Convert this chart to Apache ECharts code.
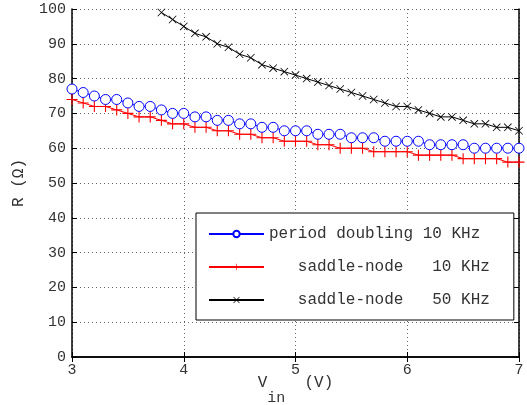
<!DOCTYPE html>
<html>
<head>
<meta charset="utf-8">
<script src="https://cdn.jsdelivr.net/npm/echarts@6/dist/echarts.min.js"></script>
<style>
  html, body { margin: 0; padding: 0; background: #fff; }
  #myChart { width: 527px; height: 405px; }
</style>
</head>
<body>
<div id="myChart"></div>
<script>
// 输入电压 V_in (V)
var vin = [3.0, 3.1, 3.2, 3.3, 3.4, 3.5, 3.6, 3.7, 3.8, 3.9,
           4.0, 4.1, 4.2, 4.3, 4.4, 4.5, 4.6, 4.7, 4.8, 4.9,
           5.0, 5.1, 5.2, 5.3, 5.4, 5.5, 5.6, 5.7, 5.8, 5.9,
           6.0, 6.1, 6.2, 6.3, 6.4, 6.5, 6.6, 6.7, 6.8, 6.9, 7.0];
// period doubling 10 KHz
var pd10 = [77, 76, 75, 74, 74, 73, 72, 72, 71, 70,
            70, 69, 69, 68, 68, 67, 67, 66, 66, 65,
            65, 65, 64, 64, 64, 63, 63, 63, 62, 62,
            62, 62, 61, 61, 61, 61, 60, 60, 60, 60, 60];
// saddle-node 10 KHz
var sn10 = [74, 73, 72, 72, 71, 70, 69, 69, 68, 67,
            67, 66, 66, 65, 65, 64, 64, 63, 63, 62,
            62, 62, 61, 61, 60, 60, 60, 59, 59, 59,
            59, 58, 58, 58, 58, 57, 57, 57, 57, 56, 56];
// saddle-node 50 KHz (从 3.8 V 开始)
var vin50 = [3.8, 3.9, 4.0, 4.1, 4.2, 4.3, 4.4, 4.5, 4.6, 4.7, 4.8, 4.9,
             5.0, 5.1, 5.2, 5.3, 5.4, 5.5, 5.6, 5.7, 5.8, 5.9,
             6.0, 6.1, 6.2, 6.3, 6.4, 6.5, 6.6, 6.7, 6.8, 6.9, 7.0];
var sn50 = [99, 97, 95, 93, 92, 90, 89, 87, 86, 84, 83, 82,
            81, 80, 79, 78, 77, 76, 75, 74, 73, 72,
            72, 71, 70, 69, 69, 68, 67, 67, 66, 66, 65];
var legendNames = ['period doubling 10 KHz', '   saddle-node   10 KHz', '   saddle-node   50 KHz'];

function pairs(xs, ys) {
  return xs.map(function (x, i) { return [x, ys[i]]; });
}

var font = 'Liberation Mono';
var plusPath = 'path://M0,4.5h10v1h-10z M4.5,0h1v10h-1z';
var crossPath = 'path://M0,0.7L0.7,0L10,9.3L9.3,10z M9.3,0L10,0.7L0.7,10L0,9.3z';

var splitDotted = { show: true, lineStyle: { type: [1, 3], color: '#666', width: 1 } };

var myChart = echarts.init(document.getElementById('myChart'));
var option = {
  animation: false,
  grid: { left: 72, right: 8, top: 9, bottom: 48, outerBoundsMode: 'none', containLabel: false },
  legend: {
    orient: 'vertical',
    left: 196,
    top: 213,
    data: legendNames,
    itemWidth: 55,
    itemHeight: 8,
    itemGap: 17,
    padding: [13, 24, 12, 12],
    backgroundColor: '#fff',
    borderColor: '#000',
    borderWidth: 1,
    borderRadius: 0,
    textStyle: { fontFamily: font, fontSize: 16, color: '#333' }
  },
  xAxis: [{
    type: 'value',
    min: 3, max: 7, interval: 1,
    name: '{v|V}{s|in}{v|  (V)}',
    nameLocation: 'middle',
    nameGap: 18,
    nameMoveOverlap: false,
    nameTextStyle: {
      rich: {
        v: { fontFamily: font, fontSize: 16, color: '#333', verticalAlign: 'top', lineHeight: 31 },
        s: { fontFamily: font, fontSize: 15, color: '#333', verticalAlign: 'bottom', lineHeight: 31 }
      }
    },
    axisLine: { lineStyle: { color: '#000', width: 1.5 } },
    axisTick: { inside: true, length: 5, lineStyle: { color: '#000' } },
    axisLabel: { fontFamily: font, fontSize: 15, color: '#333', margin: 6 },
    splitLine: splitDotted
  }, {
    type: 'value', position: 'top',
    min: 3, max: 7, interval: 1,
    axisLine: { show: true, lineStyle: { color: '#000', width: 1.5 } },
    axisTick: { inside: true, length: 5, lineStyle: { color: '#000' } },
    axisLabel: { show: false },
    splitLine: { show: false }
  }],
  yAxis: [{
    type: 'value',
    min: 0, max: 100, interval: 10,
    name: 'R (Ω)',
    nameLocation: 'middle',
    nameGap: 45,
    nameMoveOverlap: false,
    nameTextStyle: { fontFamily: font, fontSize: 16, color: '#333' },
    axisLine: { show: true, lineStyle: { color: '#000', width: 1.5 } },
    axisTick: { show: true, inside: true, length: 5, lineStyle: { color: '#000' } },
    axisLabel: { fontFamily: font, fontSize: 15, color: '#333', margin: 6 },
    splitLine: splitDotted
  }, {
    type: 'value', position: 'right',
    min: 0, max: 100, interval: 10,
    axisLine: { show: true, lineStyle: { color: '#000', width: 1.5 } },
    axisTick: { show: true, inside: true, length: 5, lineStyle: { color: '#000' } },
    axisLabel: { show: false },
    splitLine: { show: false }
  }],
  series: [
    {
      name: legendNames[0],
      type: 'line',
      data: pairs(vin, pd10),
      symbol: 'circle',
      symbolSize: 10,
      showAllSymbol: true,
      color: '#0000ff',
      lineStyle: { color: '#0000ff', width: 1 },
      itemStyle: { color: '#fff', borderColor: '#0000ff', borderWidth: 1 },
      z: 3
    },
    {
      name: legendNames[1],
      type: 'line',
      data: pairs(vin, sn10),
      symbol: plusPath,
      symbolSize: 11,
      showAllSymbol: true,
      color: '#ff0000',
      lineStyle: { color: '#ff0000', width: 1 },
      itemStyle: { color: '#ff0000' },
      z: 2
    },
    {
      name: legendNames[2],
      type: 'line',
      data: pairs(vin50, sn50),
      symbol: crossPath,
      symbolSize: 8,
      showAllSymbol: true,
      color: '#000',
      lineStyle: { color: '#000', width: 1 },
      itemStyle: { color: '#000' },
      z: 2
    }
  ]
};
myChart.setOption(option);
</script>
</body>
</html>
